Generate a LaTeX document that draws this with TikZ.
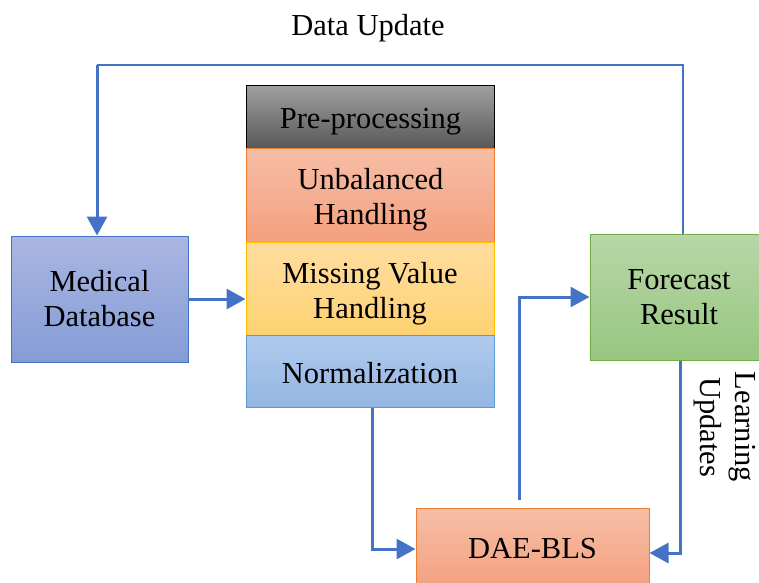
\documentclass[tikz,border=0pt]{standalone}
\usepackage{fontspec}
\setmainfont{Liberation Serif}
\usetikzlibrary{arrows.meta}
\definecolor{flowblue}{HTML}{4472C4}
\definecolor{dbborder}{HTML}{4472C4}
\definecolor{orangeborder}{HTML}{ED7D31}
\definecolor{yellowborder}{HTML}{FFC000}
\definecolor{blueborder}{HTML}{5B9BD5}
\definecolor{greenborder}{HTML}{70AD47}
\newcommand{\stacktext}[1]{\raisebox{-5pt}[\height][\depth]{\begin{tabular}{@{}c@{}}#1\end{tabular}}}
\tikzset{
  txt/.style={font=\fontsize{30.5}{35}\selectfont, align=center, inner sep=0pt},
  blk/.style={txt, draw, line width=1pt},
  stackbox/.style={blk, minimum width=248pt},
  flow/.style={flowblue, line width=3pt, -{Triangle[length=19pt,width=20pt]}},
  thinflow/.style={flowblue, line width=1.2pt},
}
\begin{document}
\begin{tikzpicture}[x=1pt,y=-1pt]
	\useasboundingbox (0,0) rectangle (759,582);

	% input and output boxes
	\node[blk, draw=dbborder, top color={rgb,255:red,170;green,182;blue,226}, bottom color={rgb,255:red,132;green,156;blue,214}, minimum width=177pt, minimum height=126pt] (md) at (99.5,299) {Medical\\Database};
	\node[blk, draw=greenborder, top color={rgb,255:red,183;green,215;blue,168}, bottom color={rgb,255:red,152;green,198;blue,128}, minimum width=178pt, minimum height=126pt] (fr) at (679,297) {Forecast\\Result};
	\node[blk, draw=orangeborder, top color={rgb,255:red,246;green,190;blue,166}, bottom color={rgb,255:red,244;green,160;blue,126}, minimum width=233pt, minimum height=82pt] (dae) at (532.5,549) {DAE-BLS};

	% pre-processing stack
	\node[stackbox, draw=black, top color={rgb,255:red,160;green,160;blue,160}, bottom color={rgb,255:red,88;green,88;blue,88}, minimum height=63pt] (pre) at (370.5,116.5) {\stacktext{Pre-processing}};
	\node[stackbox, draw=orangeborder, top color={rgb,255:red,246;green,190;blue,166}, bottom color={rgb,255:red,244;green,160;blue,126}, minimum height=94pt] (ub) at (370.5,195) {\stacktext{Unbalanced\\Handling}};
	\node[stackbox, draw=yellowborder, top color={rgb,255:red,255;green,221;blue,160}, bottom color={rgb,255:red,254;green,210;blue,115}, minimum height=93pt] (mv) at (370,288.5) {\stacktext{Missing Value\\Handling}};
	\node[stackbox, draw=blueborder, top color={rgb,255:red,176;green,202;blue,236}, bottom color={rgb,255:red,148;green,182;blue,226}, minimum height=72pt] (nm) at (370,371) {\stacktext{Normalization}};

	% labels
	\node[txt] (du) at (368,28) {Data Update};
	\node[txt, rotate=-90] (lu) at (725,427) {Learning\\Updates};

	% connectors
	\coordinate (top) at (97,65);
	\draw[thinflow] ([xshift=4pt]fr.north) |- (top);
	\draw[flow] (top) -- (top |- md.north);
	\draw[flow] (md.east) -- (mv.west |- md.east);
	\draw[flow] ([xshift=2pt]nm.south) |- (dae.west);
	\draw[flow, shorten <=8pt] ([xshift=-13pt]dae.north) |- (fr.west);
	\draw[flow] ([xshift=1pt]fr.south) |- ([yshift=-4pt]dae.east);
\end{tikzpicture}
\end{document}
